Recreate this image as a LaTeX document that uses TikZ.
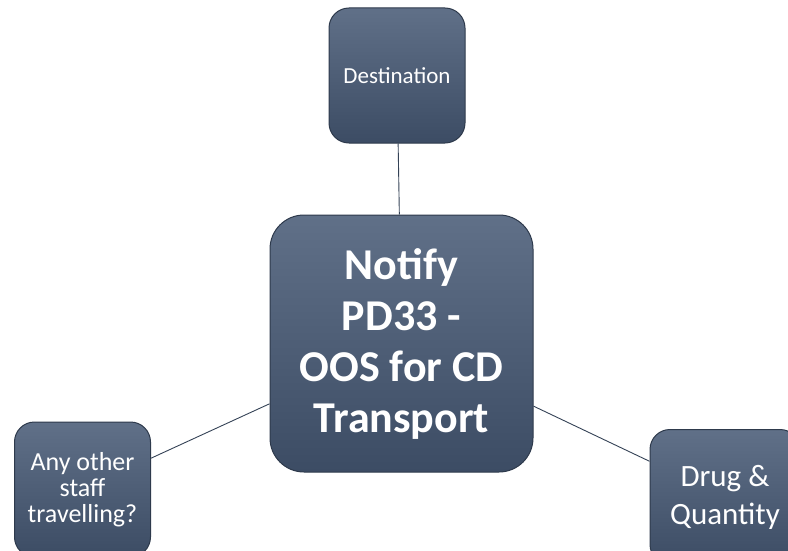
\documentclass[tikz,border=0pt]{standalone}
\usepackage{fontspec}
\setmainfont{Carlito}
\usepackage{tikz}
\usetikzlibrary{positioning}
\definecolor{boxtop}{RGB}{96,112,136}
\definecolor{boxbottom}{RGB}{60,76,100}
\definecolor{boxedge}{RGB}{46,58,76}
\definecolor{linkgray}{RGB}{52,66,86}

\begin{document}
\begin{tikzpicture}[x=1pt,y=-1pt,
  hub/.style={draw=boxedge,line width=1pt,rounded corners=34pt,top color=boxtop,bottom color=boxbottom,
    text=white,align=center,inner sep=0pt,minimum width=263pt,minimum height=257pt,
    font=\fontsize{44}{51}\selectfont\bfseries},
  leaf/.style={draw=boxedge,line width=1pt,rounded corners=20pt,top color=boxtop,bottom color=boxbottom,
    text=white,align=center,inner sep=0pt,minimum width=136pt,minimum height=135pt},
  link/.style={draw=linkgray,line width=0.9pt}
]
\useasboundingbox (0,0) rectangle (788,551);
\node[hub] (notify) at (401.5,343.5) {Notify\\PD33 -\\OOS for CD\\Transport};
\node[leaf,font=\fontsize{23}{27}\selectfont] (dest) at (397,75.5) {Destination};
\node[leaf,font=\fontsize{26}{26}\selectfont] (staff) at (82.5,489.5) {Any other\\staff\\travelling?};
\node[leaf,minimum width=150pt,font=\fontsize{31}{38}\selectfont] (drug) at (725,497) {Drug \&\\Quantity};
\draw[link] (notify) -- (dest);
\draw[link] (notify) -- (staff);
\draw[link] (notify) -- (drug);
\end{tikzpicture}
\end{document}
